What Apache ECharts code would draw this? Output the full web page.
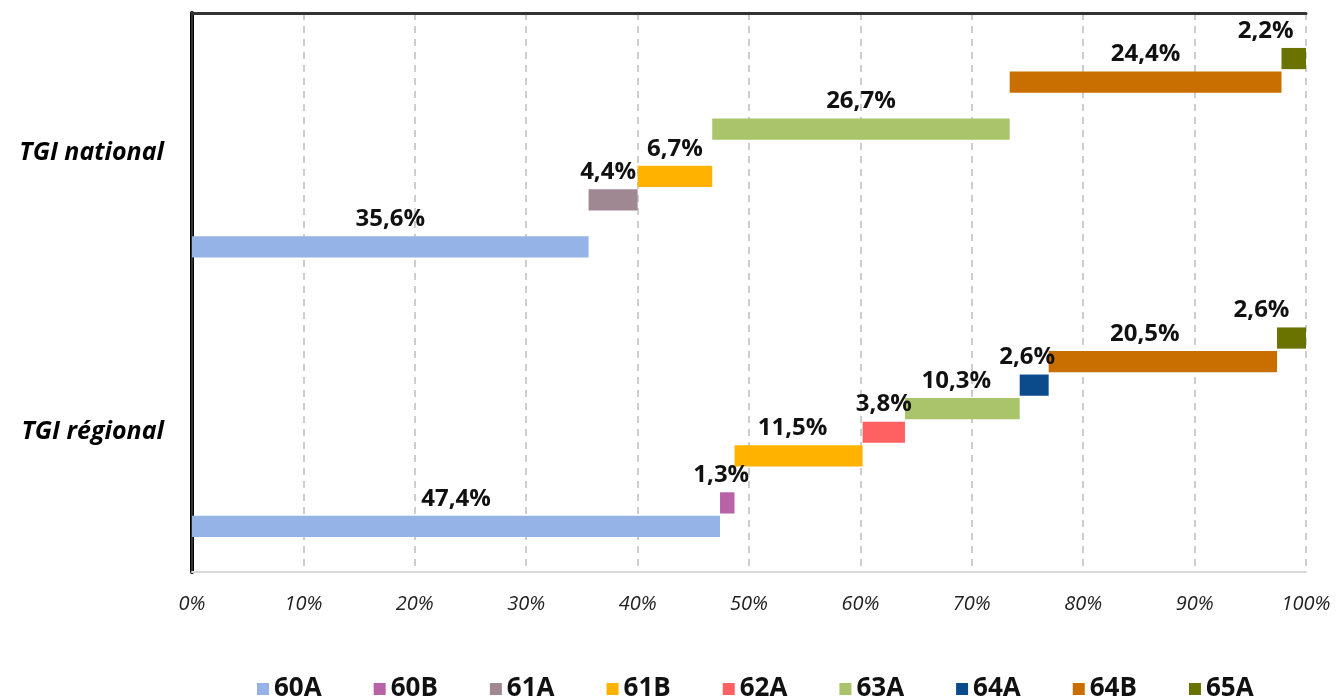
<!DOCTYPE html>
<html>
<head>
<meta charset="utf-8">
<script src="https://cdn.jsdelivr.net/npm/echarts@6/dist/echarts.min.js"></script>
<style>
  html, body { margin: 0; padding: 0; background: #fff; }
  #chart { width: 1336px; height: 696px; }
</style>
</head>
<body>
<div id="chart"></div>
<script>
// categories (bottom to top on the y axis)
const categories = ['TGI régional', 'TGI national'];
const seriesNames = ['60A', '60B', '61A', '61B', '62A', '63A', '64A', '64B', '65A'];
// shares in %, null = absent
const regional = [47.4, 1.3, null, 11.5, 3.8, 10.3, 2.6, 20.5, 2.6];
const national = [35.6, null, 4.4, 6.7, null, 26.7, null, 24.4, 2.2];
const xTicks = [0, 10, 20, 30, 40, 50, 60, 70, 80, 90, 100];

const colors = ['#95b3e6', '#b862a8', '#a08893', '#ffb300', '#ff6163',
                '#a9c46b', '#0b4a8b', '#c96e00', '#6b7300'];
// label x shifts per series [régional, national]
const labelShift = {
    '60B': [-6, 0], '61A': [0, -5], '61B': [-6, 0], '63A': [-6, 0],
    '64A': [-7, 0], '64B': [-18, 0], '65A': [-30, -28]
};

const chart = echarts.init(document.getElementById('chart'));

const rows = [regional, national];
const series = [];
// pushed last-to-first so that 60A gets the lowest slot in each band
for (let i = seriesNames.length - 1; i >= 0; i--) {
    const name = seriesNames[i];
    const bases = rows.map(r => r.slice(0, i).reduce((a, v) => a + (v || 0), 0));
    const common = { type: 'bar', stack: 's' + i, barGap: '11%', barCategoryGap: '25%' };
    series.push(Object.assign({}, common, {
        name: '_base' + i,
        silent: true,
        itemStyle: { color: 'transparent' },
        data: rows.map((r, k) => r[i] == null ? '-' : bases[k])
    }));
    const shift = labelShift[name] || [0, 0];
    series.push(Object.assign({}, common, {
        name: name,
        itemStyle: { color: colors[i] },
        label: {
            show: true,
            position: 'top',
            distance: 5,
            color: '#111',
            fontFamily: 'Open Sans',
            fontWeight: 'bold',
            fontSize: 24,
            formatter: p => p.value.toFixed(1).replace('.', ',') + '%'
        },
        data: rows.map((r, k) => r[i] == null ? '-' :
            { value: r[i], label: { offset: [shift[k], 0] } })
    }));
}

const option = {
    animation: false,
    color: colors,
    grid: { left: 192, right: 30, top: 13, bottom: 124 },
    legend: {
        data: seriesNames,
        bottom: -11,
        left: 252,
        icon: 'rect',
        itemWidth: 12,
        itemHeight: 12,
        itemGap: 52,
        textStyle: { fontFamily: 'Open Sans', fontWeight: 'bold', fontSize: 26, color: '#111' }
    },
    xAxis: [
        {
            type: 'value',
            min: xTicks[0],
            max: xTicks[xTicks.length - 1],
            interval: xTicks[1] - xTicks[0],
            axisLine: { show: true, lineStyle: { color: '#d9d9d9', width: 2 } },
            axisTick: { show: false },
            axisLabel: {
                margin: 22,
                color: '#222',
                fontFamily: 'Open Sans',
                fontStyle: 'italic',
                fontSize: 20,
                formatter: '{value}%'
            },
            splitLine: { show: true, lineStyle: { color: '#bdbdbd', width: 1.5, type: [7, 6] } }
        },
        {
            type: 'value',
            position: 'top',
            min: 0,
            max: 100,
            axisLine: { show: true, lineStyle: { color: '#333', width: 3 } },
            axisTick: { show: false },
            axisLabel: { show: false },
            splitLine: { show: false }
        }
    ],
    yAxis: [
        {
            type: 'category',
            data: categories,
            axisLine: { show: true, lineStyle: { color: '#000', width: 4 } },
            axisTick: { show: false },
            axisLabel: {
                margin: 28,
                color: '#000',
                fontFamily: 'Open Sans',
                fontStyle: 'italic',
                fontWeight: 'bold',
                fontSize: 25
            }
        },
        {
            type: 'category',
            position: 'right',
            data: categories,
            axisLine: { show: true, lineStyle: { color: '#333', width: 2 } },
            axisTick: { show: false },
            axisLabel: { show: false }
        }
    ],
    series: series
};

chart.setOption(option);
</script>
</body>
</html>
